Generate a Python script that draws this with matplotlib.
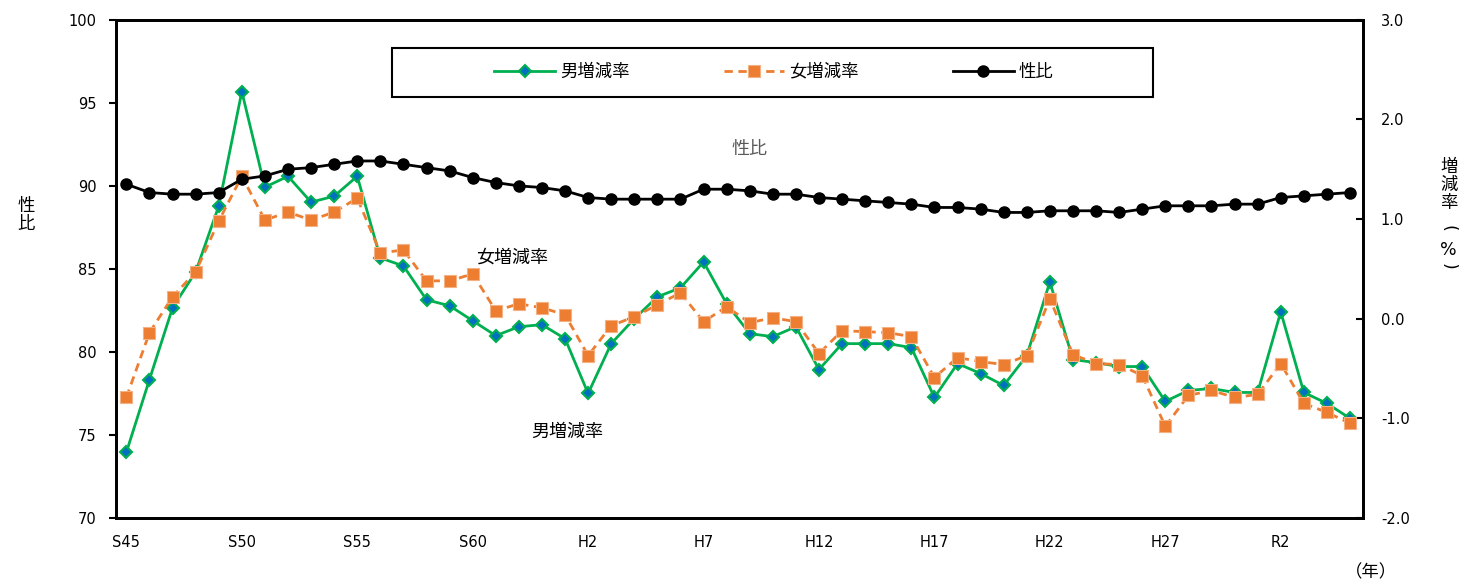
import numpy as np
import matplotlib.pyplot as plt
from matplotlib.patches import Rectangle

plt.rcParams['font.family'] = ['DejaVu Sans', 'Noto Sans CJK JP']

years = np.arange(1970, 2024)
tick_labels = ["S45", "S50", "S55", "S60", "H2", "H7", "H12", "H17", "H22", "H27", "R2"]

# 性比 (left axis)
sex_ratio = [90.1, 89.6, 89.5, 89.5, 89.6, 90.4, 90.6, 91.0, 91.1, 91.3,
             91.5, 91.5, 91.3, 91.1, 90.9, 90.5, 90.2, 90.0, 89.9, 89.7,
             89.3, 89.2, 89.2, 89.2, 89.2, 89.8, 89.8, 89.7, 89.5, 89.5,
             89.3, 89.2, 89.1, 89.0, 88.9, 88.7, 88.7, 88.6, 88.4, 88.4,
             88.5, 88.5, 88.5, 88.4, 88.6, 88.8, 88.8, 88.8, 88.9, 88.9,
             89.3, 89.4, 89.5, 89.6]
# 男増減率 (right axis, %)
male_rate = [-1.34, -0.61, 0.11, 0.47, 1.13, 2.28, 1.32, 1.43, 1.17, 1.23,
             1.43, 0.61, 0.53, 0.19, 0.13, -0.02, -0.17, -0.08, -0.06, -0.20,
             -0.75, -0.25, 0.00, 0.22, 0.31, 0.57, 0.15, -0.15, -0.18, -0.08,
             -0.51, -0.25, -0.25, -0.25, -0.29, -0.79, -0.45, -0.55, -0.67, -0.37,
             0.37, -0.41, -0.44, -0.48, -0.48, -0.83, -0.72, -0.70, -0.74, -0.74,
             0.07, -0.74, -0.85, -1.00]
# 女増減率 (right axis, %)
female_rate = [-0.79, -0.14, 0.22, 0.47, 0.98, 1.43, 0.99, 1.07, 0.99, 1.07,
               1.21, 0.66, 0.69, 0.38, 0.38, 0.45, 0.08, 0.15, 0.11, 0.04,
               -0.37, -0.07, 0.02, 0.14, 0.26, -0.03, 0.12, -0.04, 0.01, -0.03,
               -0.35, -0.12, -0.13, -0.14, -0.18, -0.59, -0.39, -0.43, -0.46, -0.37,
               0.20, -0.36, -0.45, -0.46, -0.57, -1.08, -0.77, -0.72, -0.79, -0.76,
               -0.45, -0.85, -0.94, -1.05]

x = np.arange(len(years))

fig = plt.figure(figsize=(14.59, 5.83), dpi=100)
ax = fig.add_axes([0.0795, 0.1115, 0.8545, 0.8545])
ax2 = ax.twinx()

l1, = ax2.plot(x, male_rate, color="#00B050", lw=2, marker="D", ms=6,
               mfc="#0070C0", mec="#00B050", mew=1.5, label="男増減率")
l2, = ax2.plot(x, female_rate, color="#ED7D31", lw=2, ls=(0, (3, 2)), marker="s",
               ms=8, mfc="#ED7D31", mec="#F4B183", mew=0.8, label="女増減率")
l3, = ax.plot(x, sex_ratio, color="black", lw=2, marker="o", ms=8, label="性比",
              zorder=5)
ax.set_zorder(ax2.get_zorder() + 1)
ax.patch.set_visible(False)
ax2.set_facecolor("#FFFFCC")

ax.set_xlim(-0.45, 53.55)
ax.set_ylim(70, 100)
ax.set_yticks(np.arange(70, 101, 5))
ax2.set_ylim(-2, 3)
ax2.set_yticks(np.arange(-2, 3.1, 1))
ax2.set_yticklabels([f"{v:.1f}" for v in np.arange(-2, 3.1, 1)])

ax.set_xticks(x[::5])
ax.set_xticklabels(tick_labels)

for a in (ax, ax2):
    for s in a.spines.values():
        s.set_linewidth(2)
    a.tick_params(labelsize=10.5, width=1.5, length=5)
ax.tick_params(axis="y", direction="out", pad=9)
ax2.tick_params(axis="y", direction="in", pad=13)
ax.tick_params(axis="x", length=0, pad=12)

ax.text(-0.072, 0.608, "性\n比", transform=ax.transAxes, fontsize=12.5,
        ha="center", va="center", linespacing=1.05)
# right axis title written vertically: 増減率（%）
ax.text(1.069, 0.669, "増\n減\n率", transform=ax.transAxes, fontsize=12.5,
        ha="center", va="center", linespacing=1.0)
ax.text(1.069, 0.582, "(", transform=ax.transAxes, fontsize=12.5,
        ha="center", va="center", rotation=-90)
ax.text(1.069, 0.538, "%", transform=ax.transAxes, fontsize=12.5,
        ha="center", va="center")
ax.text(1.069, 0.506, ")", transform=ax.transAxes, fontsize=12.5,
        ha="center", va="center", rotation=-90)
ax.text(1.0064, -0.11, "（年）", transform=ax.transAxes, fontsize=12.5,
        ha="center", va="center")

ax.text(27.0, 92.2, "性比", fontsize=13, color="#595959", ha="center", va="center")
ax.text(16.7, 85.7, "女増減率", fontsize=13, ha="center", va="center")
ax.text(19.1, 75.2, "男増減率", fontsize=13, ha="center", va="center")

# legend box drawn separately so it can be wider than its content
ax.add_patch(Rectangle((0.2213, 0.8454), 0.6103, 0.0984, transform=ax.transAxes,
                       facecolor="white", edgecolor="black", lw=1.5, zorder=6))
leg = ax.legend(handles=[l1, l2, l3], loc="center", bbox_to_anchor=(0.5277, 0.8956),
                ncol=3, fontsize=12.5, frameon=False, handlelength=3.5,
                handletextpad=0.3, columnspacing=5.4, borderaxespad=0)
leg.set_zorder(7)

fig.savefig("out.png", dpi=100)
